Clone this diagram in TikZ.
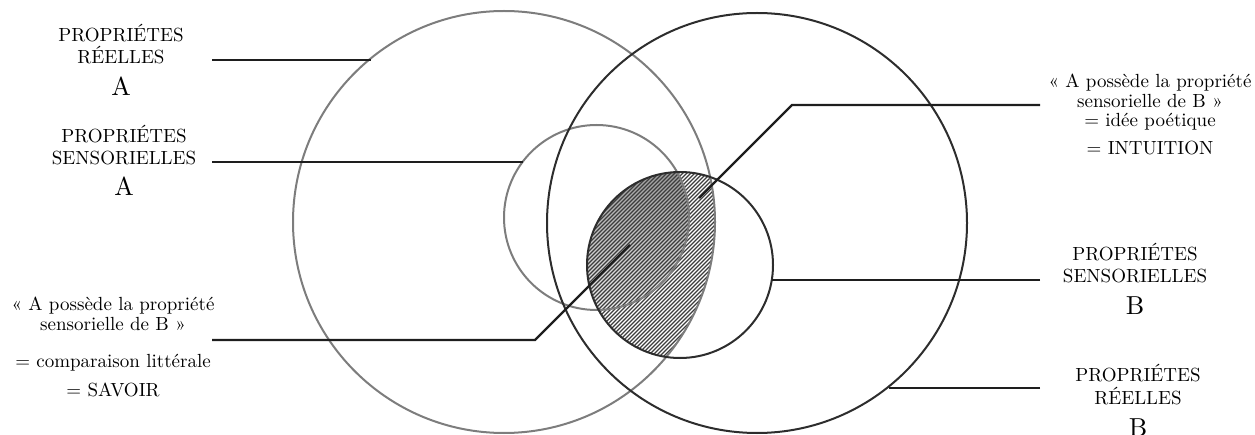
\documentclass[tikz,border=0pt]{standalone}
\font\lblfont="[lmroman10-regular]:mapping=tex-text" at 19pt
\font\bigfont="[lmroman10-regular]:mapping=tex-text" at 26pt
\definecolor{greyA}{RGB}{125,125,125}
\definecolor{darkB}{RGB}{45,45,45}
\definecolor{leadc}{RGB}{30,30,30}
\definecolor{shade}{RGB}{170,170,170}
\definecolor{hatchc}{RGB}{60,60,60}
\begin{document}
\begin{tikzpicture}[x=1pt,y=-1pt,
  circA/.style={circle,draw=greyA,line width=2pt,inner sep=0pt,outer sep=0pt},
  circB/.style={circle,draw=darkB,line width=2pt,inner sep=0pt,outer sep=0pt},
  lead/.style={draw=leadc,line width=2.4pt},
  hatchline/.style={draw=hatchc,line width=1.3pt},
  lbl/.style={anchor=base,inner sep=0pt,font=\lblfont},
  biglbl/.style={anchor=base,inner sep=0pt,font=\bigfont}]
\useasboundingbox (0,0) rectangle (1255,435);
% shaded intersection of the two sensory circles
\begin{scope}
  \clip (680,265) circle[radius=93pt];
  \clip (596.5,217.5) circle[radius=92.5pt];
  \fill[shade] (500,120) rectangle (720,340);
\end{scope}
% hatching: sensory B inside real A
\begin{scope}
  \clip (680,265) circle[radius=93pt];
  \clip (504,222) circle[radius=211pt];
  \foreach \c in {740,744,...,1092} \draw[hatchline] (\c-372,372) -- (\c-160,160);
\end{scope}
% circles
\node[circA,minimum size=422pt] (AR) at (504,222) {};
\node[circA,minimum size=185pt] (AS) at (596.5,217.5) {};
\node[circB,minimum size=420pt] (BR) at (757,223) {};
\node[circB,minimum size=186pt] (BS) at (680,265) {};
% leader lines
\coordinate (s1) at (212,60);
\coordinate (s2) at (212,162);
\coordinate (s3) at (212,340);
\coordinate (b3) at (535,340);
\coordinate (e3) at (630,245);
\coordinate (s4) at (1040,105);
\coordinate (b4) at (792,105);
\coordinate (e4) at (699,198);
\coordinate (s5) at (1040,280);
\coordinate (s6) at (1040,388);
\draw[lead] (s1) -- (s1 -| AR.129.85);
\draw[lead] (s2) -- (s2 -| AS.143.1);
\draw[lead] (s3) -- (b3) -- (e3);
\draw[lead] (s4) -- (b4) -- (e4);
\draw[lead] (s5) -- (s5 -| BS.-9.3);
\draw[lead] (s6) -- (s6 -| BR.-51.8);
% labels left
\node[lbl] (ra1) at (121,41.7) {PROPRIÉTES};
\node[lbl] (ra2) at (121,63.3) {RÉELLES};
\node[biglbl] (ra3) at (121,95.7) {A};
\node[lbl] (sa1) at (124,142.7) {PROPRIÉTES};
\node[lbl] (sa2) at (124,164.3) {SENSORIELLES};
\node[biglbl] (sa3) at (124,196) {A};
\node[lbl] (cl1) at (113,310.7) {«~A possède la propriété};
\node[lbl] (cl2) at (113,331) {sensorielle de B~»};
\node[lbl] (cl3) at (113,367.7) {= comparaison littérale};
\node[lbl] (cl4) at (113,396.7) {= SAVOIR};
% labels right
\node[lbl] (ip1) at (1150,87.3) {«~A possède la propriété};
\node[lbl] (ip2) at (1150,107.7) {sensorielle de B~»};
\node[lbl] (ip3) at (1150,127) {= idée poétique};
\node[lbl] (ip4) at (1150,155) {= INTUITION};
\node[lbl] (sb1) at (1135,260.7) {PROPRIÉTES};
\node[lbl] (sb2) at (1135,282.7) {SENSORIELLES};
\node[biglbl] (sb3) at (1135,314.3) {B};
\node[lbl] (rb1) at (1138,381.7) {PROPRIÉTES};
\node[lbl] (rb2) at (1138,404.3) {RÉELLES};
\node[biglbl] (rb3) at (1138,436) {B};
\end{tikzpicture}
\end{document}
